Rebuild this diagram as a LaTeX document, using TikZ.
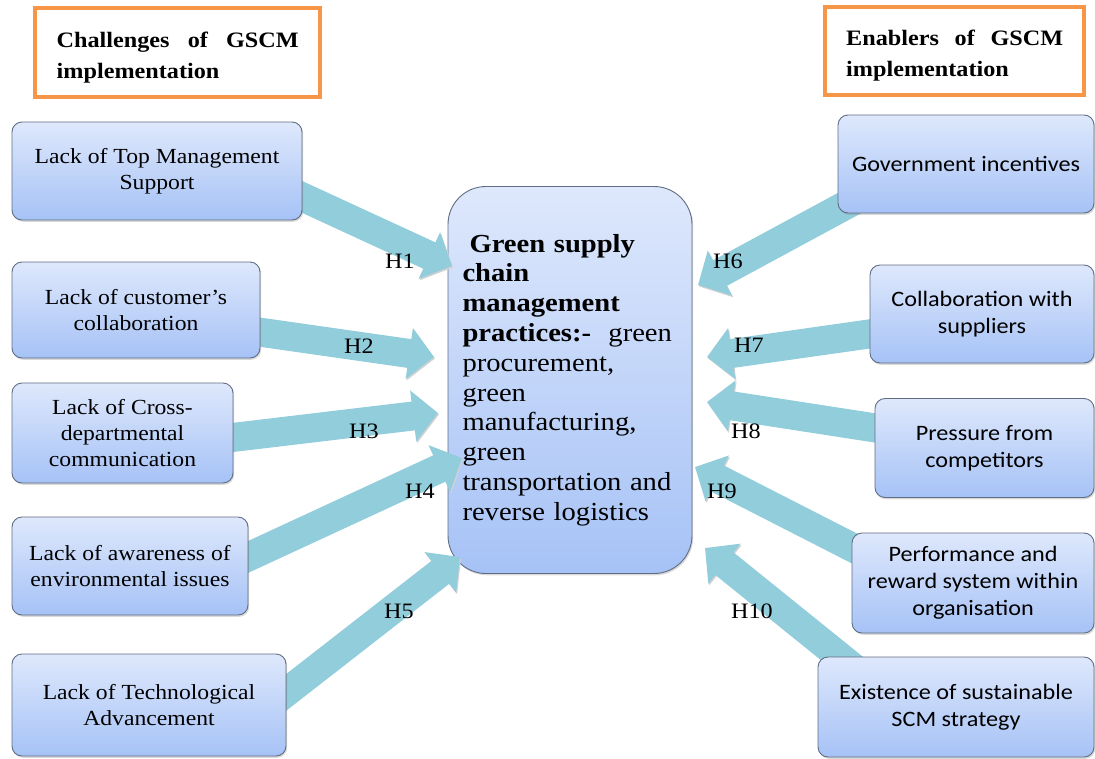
\documentclass[tikz,border=0pt]{standalone}
\usepackage{fontspec}
\setmainfont{Liberation Serif}[FakeStretch=1.1]
\newfontfamily\boxsans{Carlito}[FakeStretch=1.1]
\usetikzlibrary{arrows.meta,shadows}

\definecolor{accentorange}{HTML}{F79646}
\definecolor{flowteal}{HTML}{92CDDC}
\definecolor{boxtop}{HTML}{DEE8FC}
\definecolor{boxbottom}{HTML}{A6C2F6}
\definecolor{boxline}{HTML}{5F6E84}

\pgfdeclarelayer{core}
\pgfdeclarelayer{flows}
\pgfsetlayers{core,flows,main}

\begin{document}
\begin{tikzpicture}[x=1pt,y=-1pt,
  heading/.style={draw=accentorange, line width=3.5pt, fill=white, inner sep=0pt},
  headtext/.style={inner sep=0pt, anchor=west, align=left,
    font=\bfseries\fontsize{22}{31}\selectfont},
  factor/.style={draw=boxline, line width=0.9pt, rounded corners=10pt,
    top color=boxtop, bottom color=boxbottom, inner sep=0pt, align=center,
    drop shadow={opacity=0.3, shadow xshift=1.2pt, shadow yshift=-1.8pt}},
  challenge/.style={factor, font=\fontsize{21.5}{26}\selectfont},
  enabler/.style={factor, font=\boxsans\fontsize{22}{27}\selectfont},
  hub/.style={factor, rounded corners=38pt, align=left,
    font=\fontsize{26}{29.8}\selectfont},
  flow/.style={draw=flowteal, line width=29pt,
    -{Triangle[length=25pt,width=50pt]},
    preaction={draw=black!18, transform canvas={shift={(1pt,-1.5pt)}}}},
  hyp/.style={inner sep=0pt, font=\fontsize{22}{24}\selectfont}
]
\useasboundingbox (0,0) rectangle (1095,758);

% group headings
\node[heading, minimum width=285pt, minimum height=89pt] (thead) at (177.5,52.5) {};
\node[headtext, text width=242pt] (theadtext) at (56.5,57.5)
  {\makebox[242pt][s]{Challenges\hfill of\hfill GSCM}\\implementation};
\node[heading, minimum width=259pt, minimum height=88pt] (ehead) at (954.5,51) {};
\node[headtext, text width=217pt] (eheadtext) at (846,56)
  {\makebox[217pt][s]{Enablers\hfill of\hfill GSCM}\\implementation};

% challenges (left column)
\node[challenge, minimum width=290pt, minimum height=98pt]  (c1) at (157,171)
  {Lack of Top Management\\Support};
\node[challenge, minimum width=248pt, minimum height=96pt]  (c2) at (136,310)
  {Lack of customer’s\\collaboration};
\node[challenge, minimum width=221pt, minimum height=100pt] (c3) at (122.5,433)
  {Lack of Cross-\\departmental\\communication};
\node[challenge, minimum width=236pt, minimum height=98pt]  (c4) at (130,566)
  {Lack of awareness of\\environmental issues};
\node[challenge, minimum width=274pt, minimum height=102pt] (c5) at (149,705)
  {Lack of Technological\\Advancement};

% enablers (right column)
\node[enabler, minimum width=256pt, minimum height=98pt]  (e1) at (966,164)
  {Government incentives};
\node[enabler, minimum width=224pt, minimum height=98pt]  (e2) at (982,314)
  {Collaboration with\\suppliers};
\node[enabler, minimum width=219pt, minimum height=99pt]  (e3) at (984.5,448)
  {Pressure from\\competitors};
\node[enabler, minimum width=242pt, minimum height=100pt] (e4) at (973,583)
  {Performance and\\reward system within\\organisation};
\node[enabler, minimum width=276pt, minimum height=100pt] (e5) at (956,707)
  {Existence of sustainable\\SCM strategy};

% central construct
\begin{pgfonlayer}{core}
\node[hub, minimum width=244pt, minimum height=387pt, text width=215pt]
  (gscm) at (570,380)
  {\hspace*{7pt}\textbf{Green supply}\\
   \textbf{chain}\\
   \textbf{management}\\
   \textbf{practices:-}\ \ green\\
   procurement,\\
   green\\
   manufacturing,\\
   green\\
   transportation and\\
   reverse logistics};
\end{pgfonlayer}

% arrow ends
\coordinate (s1) at (285,189);   \coordinate (t1) at (452,266);
\coordinate (s2) at (245,330);   \coordinate (t2) at (434,357);
\coordinate (s3) at (220,439);   \coordinate (t3) at (438,413);
\coordinate (s4) at (235,563);   \coordinate (t4) at (462,458);
\coordinate (s5) at (270,705);   \coordinate (t5) at (460,557);
\coordinate (s6) at (870,192);   \coordinate (t6) at (698,285);
\coordinate (s7) at (890,331);   \coordinate (t7) at (707,357);
\coordinate (s8) at (895,431);   \coordinate (t8) at (707,402);
\coordinate (s9) at (875,559);   \coordinate (t9) at (695,467);
\coordinate (s10) at (860,673);  \coordinate (t10) at (705,548);

\begin{pgfonlayer}{flows}
\foreach \i in {1,...,10}
  \draw[flow] (s\i) -- (t\i);
\end{pgfonlayer}

% hypothesis labels
\node[hyp] (h1)  at (400,261) {H1};
\node[hyp] (h2)  at (359,346) {H2};
\node[hyp] (h3)  at (364,431) {H3};
\node[hyp] (h4)  at (420,491) {H4};
\node[hyp] (h5)  at (399,611) {H5};
\node[hyp] (h6)  at (728,261) {H6};
\node[hyp] (h7)  at (749,345) {H7};
\node[hyp] (h8)  at (746,431) {H8};
\node[hyp] (h9)  at (722,491) {H9};
\node[hyp] (h10) at (752,611) {H10};
\end{tikzpicture}
\end{document}
